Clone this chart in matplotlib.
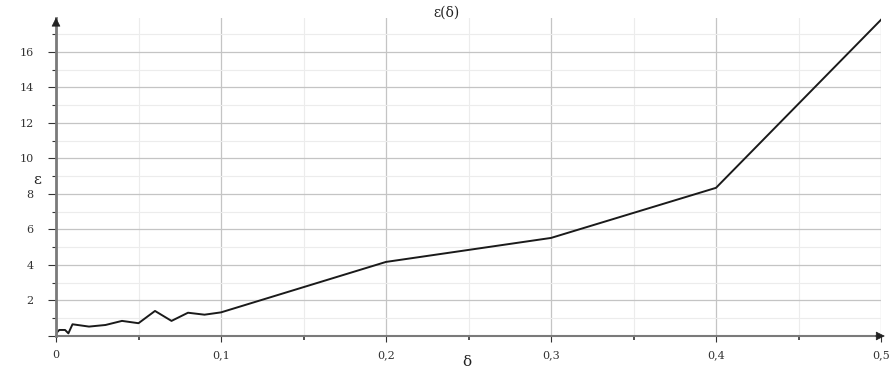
import matplotlib
matplotlib.use("Agg")
import matplotlib.pyplot as plt
from matplotlib.ticker import MultipleLocator, FuncFormatter

delta = [0.0, 0.002, 0.0055, 0.0075, 0.01, 0.02, 0.03, 0.04, 0.05, 0.06, 0.07, 0.08, 0.09, 0.1, 0.2, 0.3, 0.4, 0.5]
eps = [0.15, 0.34, 0.34, 0.15, 0.66, 0.53, 0.62, 0.85, 0.72, 1.41, 0.85, 1.31, 1.2, 1.33, 4.17, 5.52, 8.34, 17.8]

plt.rcParams['font.family'] = ['DejaVu Serif']

fig = plt.figure(figsize=(8.94, 3.71), dpi=100)
ymax = 17.9
ax = fig.add_axes([56/894, 35/371, 825/894, (336-18)/371])

ax.plot(delta, eps, color='#1a1a1a', lw=1.4)
ax.set_xlim(0, 0.5)
ax.set_ylim(0, ymax)

ax.xaxis.set_major_locator(MultipleLocator(0.1))
ax.xaxis.set_minor_locator(MultipleLocator(0.05))
ax.yaxis.set_major_locator(MultipleLocator(2))
ax.yaxis.set_minor_locator(MultipleLocator(1))

def fx(v, p):
    if abs(v) < 1e-9:
        return '0'
    return ('%.1f' % v).replace('.', ',')
ax.xaxis.set_major_formatter(FuncFormatter(fx))
ax.yaxis.set_major_formatter(FuncFormatter(lambda v, p: '' if v == 0 else '%d' % v))

ax.grid(which='major', color='#c4c4c4', lw=0.9)
ax.grid(which='minor', color='#ececec', lw=0.8)
ax.set_axisbelow(True)

for s in ['top', 'right']:
    ax.spines[s].set_visible(False)
ax.spines['left'].set_color('#7a7a7a')
ax.spines['left'].set_linewidth(2)
ax.spines['bottom'].set_color('#7a7a7a')
ax.spines['bottom'].set_linewidth(1.5)

ax.tick_params(which='both', colors='#333333', labelsize=8, direction='out')
ax.tick_params(axis='y', which='major', length=6, width=0.8, pad=10)
ax.tick_params(axis='y', which='minor', length=3, width=0.8)
ax.tick_params(axis='x', which='major', length=4, width=0.8, pad=6)
ax.tick_params(axis='x', which='minor', length=3, width=1.2)

# arrows
ax.annotate('', xy=(1.008, 0), xycoords='axes fraction', xytext=(0.99, 0),
            arrowprops=dict(arrowstyle='-|>', color='#222222', lw=0.5, mutation_scale=14), annotation_clip=False)
ax.annotate('', xy=(0, 1.01), xycoords='axes fraction', xytext=(0, 0.97),
            arrowprops=dict(arrowstyle='-|>', color='#222222', lw=0.5, mutation_scale=14), annotation_clip=False)

fig.text(447/894, 1 - 13/371, 'ε(δ)', ha='center', va='center', fontsize=10, color='#222222')
fig.text(467/894, 1 - 362/371, 'δ', ha='center', va='center', fontsize=11, color='#222222')
fig.text(37/894, 1 - 180/371, 'ε', ha='center', va='center', fontsize=11, color='#222222')

fig.savefig('out.png', dpi=100)
